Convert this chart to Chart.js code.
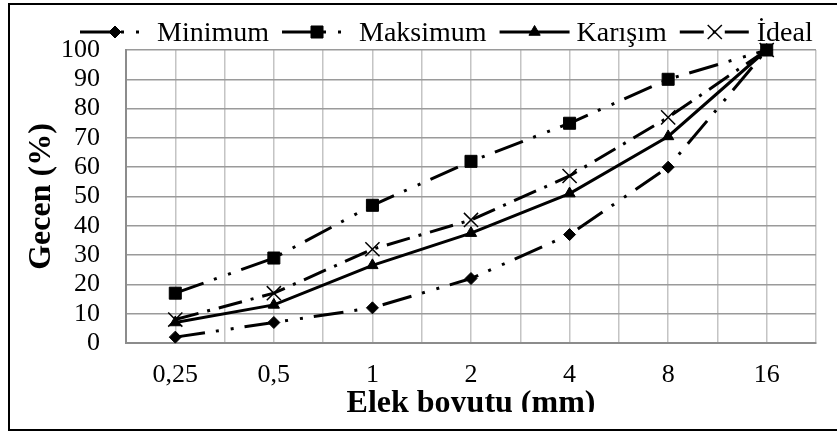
<!DOCTYPE html>
<html><head><meta charset="utf-8">
<script src="https://cdn.jsdelivr.net/npm/chart.js@4.4.1/dist/chart.umd.min.js"></script>
<style>html,body{margin:0;padding:0;background:#fff;}</style>
</head><body>
<canvas id="c" width="837" height="437"></canvas>
<script>
// ---- data ----
const categories = ['0,25', '0,5', '1', '2', '4', '8', '16'];
const seriesNames = ['Minimum', 'Maksimum', 'Karışım', 'İdeal'];
const minimum  = [2, 7, 12, 22, 37, 60, 100];
const maksimum = [17, 29, 47, 62, 75, 90, 100];
const karisim  = [7, 13, 26.5, 37.5, 51, 70.5, 100];
const ideal    = [8, 17, 32, 42, 57, 77, 100];
const yMin = 0, yMax = 100, yStep = 10;
const xTitle = 'Elek boyutu (mm)';
const yTitle = 'Gecen (%)';

const toPoints = arr => arr.map((v, i) => ({x: i, y: v}));
const SERIF = '"Liberation Serif", "Times New Roman", serif';

function ds(label, values, style, radius, dash, pbw) {
  return {
    label, data: toPoints(values),
    borderColor: '#000', backgroundColor: '#000', borderWidth: 3,
    borderDash: dash, tension: 0, clip: false,
    pointStyle: style, pointRadius: radius, pointHoverRadius: radius,
    pointBackgroundColor: '#000', pointBorderColor: '#000', pointBorderWidth: pbw
  };
}

const legendPlugin = {
  id: 'customLegend',
  afterDraw(chart) {
    const ctx = chart.ctx;
    ctx.save();
    ctx.font = '28px ' + SERIF;
    const sampleW = 70, gap = 7, itemGap = 13, cy = 32;
    let x = 80;
    chart.data.datasets.forEach(d => {
      ctx.save();
      ctx.strokeStyle = d.borderColor; ctx.lineWidth = d.borderWidth;
      ctx.setLineDash(d.borderDash || []);
      ctx.beginPath(); ctx.moveTo(x, cy); ctx.lineTo(x + sampleW, cy); ctx.stroke();
      ctx.setLineDash([]);
      ctx.fillStyle = d.pointBackgroundColor; ctx.strokeStyle = d.pointBorderColor;
      ctx.lineWidth = d.pointBorderWidth;
      Chart.helpers.drawPoint(ctx, {pointStyle: d.pointStyle, radius: d.pointRadius, rotation: 0, borderWidth: d.pointBorderWidth}, x + sampleW / 2, cy);
      ctx.restore();
      ctx.fillStyle = '#000'; ctx.textBaseline = 'alphabetic'; ctx.textAlign = 'left';
      ctx.fillText(d.label, x + sampleW + gap, 41);
      x += sampleW + gap + ctx.measureText(d.label).width + itemGap;
    });
    ctx.restore();
  }
};

const framePlugin = {
  id: 'frame',
  afterDraw(chart) {
    const ctx = chart.ctx;
    ctx.save();
    ctx.fillStyle = '#fff';
    ctx.fillRect(11, 412, 826, 17);
    ctx.strokeStyle = '#000'; ctx.lineWidth = 2;
    ctx.strokeRect(9, 4, 900, 426);
    ctx.restore();
  }
};

new Chart(document.getElementById('c'), {
  type: 'line',
  data: {
    datasets: [
      ds(seriesNames[0], minimum, 'rectRot', 6, [30, 11, 3, 12, 3, 11], 1),
      ds(seriesNames[1], maksimum, 'rect', 8.5, [30, 11, 3, 12, 3, 11], 1),
      ds(seriesNames[2], karisim, 'triangle', 6.5, [], 1),
      ds(seriesNames[3], ideal, 'crossRot', 10, [24, 9, 3, 9], 1.5)
    ]
  },
  options: {
    responsive: false, animation: false, devicePixelRatio: 1,
    layout: {padding: {left: 0, right: 21, top: 50, bottom: 0}},
    plugins: {legend: {display: false}, tooltip: {enabled: false}},
    scales: {
      x: {
        type: 'linear', min: -0.5, max: categories.length - 0.5,
        afterFit: s => { s.height = 94; },
        ticks: {
          stepSize: 0.5, autoSkip: false, maxRotation: 0, padding: 16.4,
          color: '#000', font: {family: SERIF, size: 26},
          callback: v => (Math.abs(v - Math.round(v)) < 1e-6 ? (categories[Math.round(v)] ?? '') : '')
        },
        grid: {color: '#c4c4c4', lineWidth: 1.5, drawTicks: false},
        border: {color: '#8c8c8c', width: 2},
        title: {display: true, text: xTitle, color: '#000', font: {family: SERIF, size: 32, weight: 'bold'}, padding: {top: 0, bottom: 14.4}}
      },
      y: {
        min: yMin, max: yMax,
        afterFit: s => { s.width = 126; },
        ticks: {stepSize: yStep, autoSkip: false, padding: 26, color: '#000', font: {family: SERIF, size: 26}},
        grid: {color: '#9a9a9a', lineWidth: 1.5, drawTicks: false},
        border: {color: '#8c8c8c', width: 2},
        title: {display: true, text: yTitle, color: '#000', font: {family: SERIF, size: 32, weight: 'bold'}, padding: {top: 23, bottom: 0}}
      }
    }
  },
  plugins: [legendPlugin, framePlugin]
});
</script>
</body></html>
